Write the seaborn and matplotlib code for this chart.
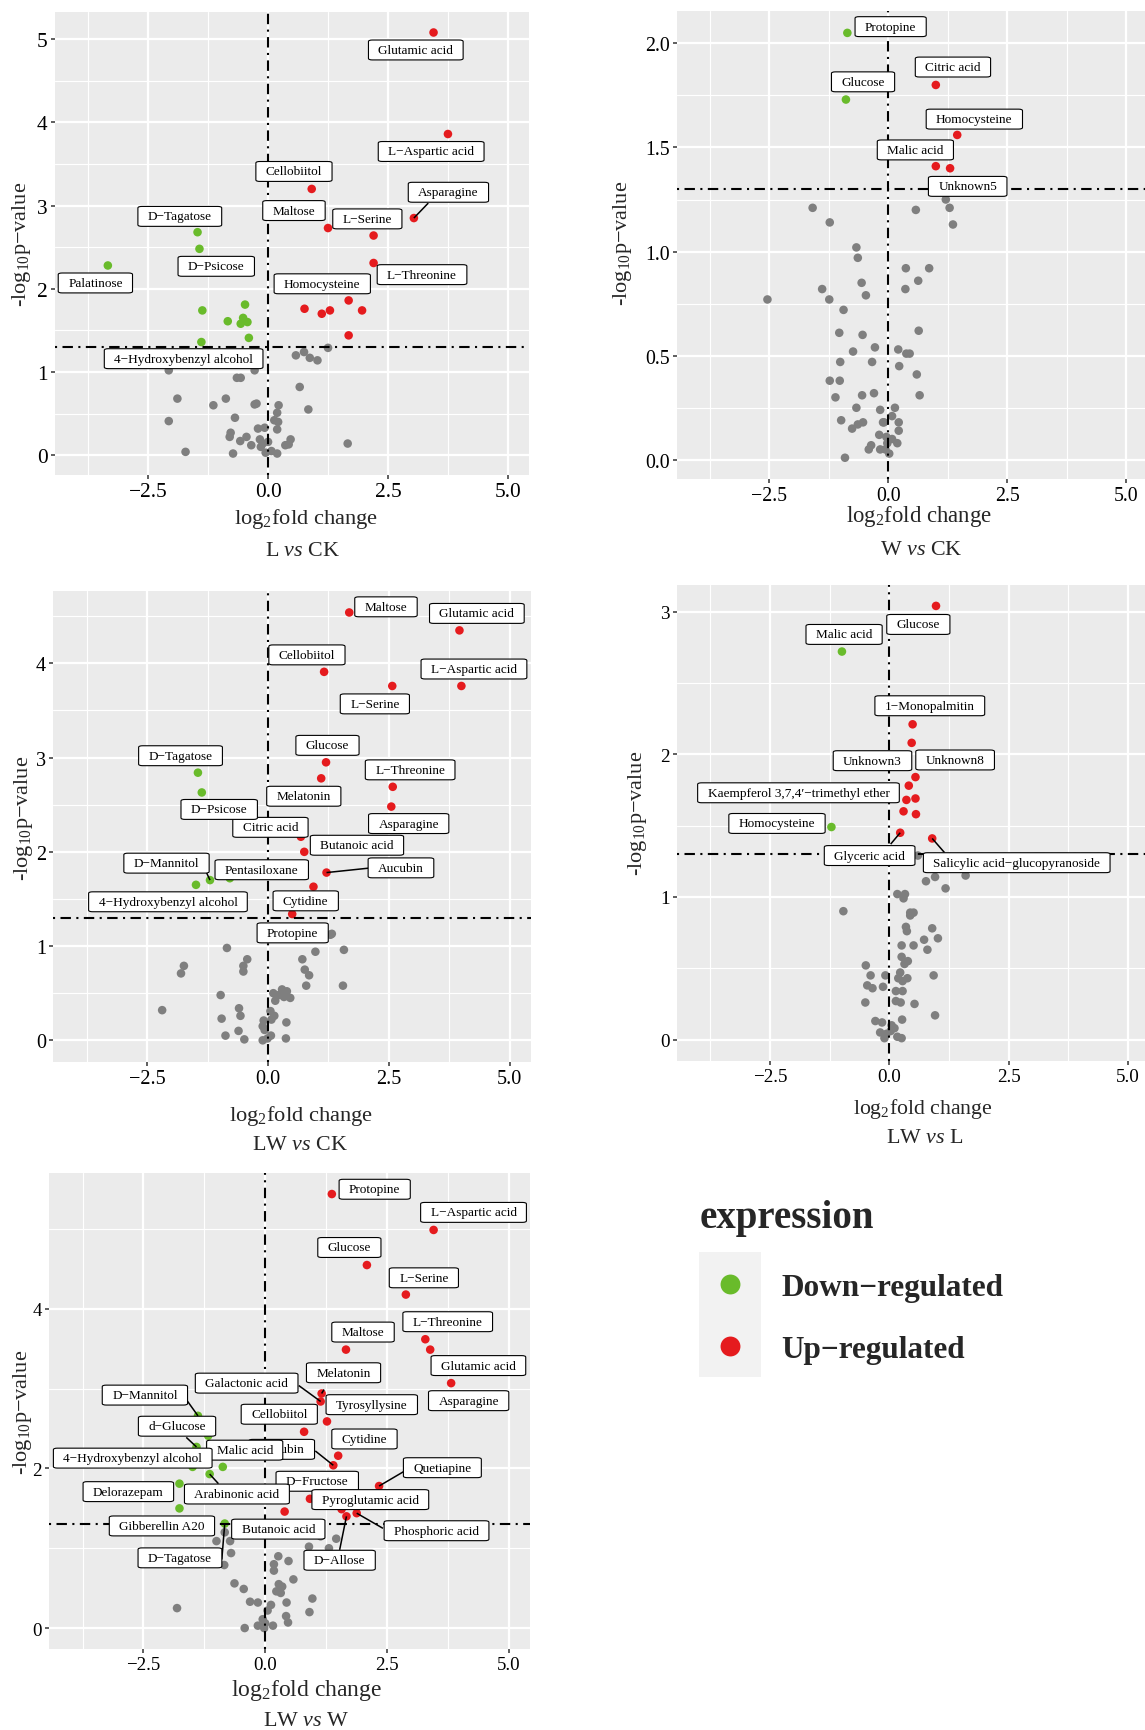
import numpy as np
import pandas as pd
import matplotlib
matplotlib.use("Agg")
import matplotlib.pyplot as plt
import seaborn as sns
from matplotlib.patches import Rectangle
from matplotlib.ticker import FixedLocator

sns.set_style("white")
plt.rcParams["font.family"] = ["Liberation Serif", "DejaVu Serif"]
plt.rcParams["mathtext.fontset"] = "custom"
plt.rcParams["mathtext.rm"] = "Liberation Serif"
plt.rcParams["mathtext.it"] = "Liberation Serif:italic"
plt.rcParams["mathtext.bf"] = "Liberation Serif:bold"
plt.rcParams["mathtext.default"] = "regular"

P_CUT = -np.log10(0.05)
UP, DOWN, NS = "Up−regulated", "Down−regulated", "Unchanged"
GROUP_COLORS = {DOWN: "#69BB2B", UP: "#E51B1E", NS: "#7F7F7F"}

# ---------------- L vs CK ----------------
lck_names = ["Glutamic acid", "L−Aspartic acid", "Cellobiitol", "Asparagine", "Maltose",
             "L−Serine", "L−Threonine", "Homocysteine", "D−Tagatose", "D−Psicose",
             "Palatinose", "4−Hydroxybenzyl alcohol"]
lck_fc = [3.45, 3.75, 0.91, 3.04, 1.25, 2.20, 2.20, 1.68, -1.47, -1.43, -3.34, -1.39]
lck_p = [5.08, 3.86, 3.20, 2.85, 2.73, 2.64, 2.31, 1.86, 2.68, 2.48, 2.28, 1.36]
lck_sig_fc = [0.76, 1.12, 1.29, 1.96, 1.68, -1.37, -0.48, -0.84, -0.52, -0.57, -0.43, -0.40]
lck_sig_p = [1.76, 1.70, 1.74, 1.74, 1.44, 1.74, 1.81, 1.61, 1.65, 1.58, 1.60, 1.41]
lck_ns_fc = [0.58, 0.75, 0.87, 1.03, 1.25, -2.07, -0.67, -0.28, -0.65, -0.57, 0.66, -1.89,
             -0.88, -1.14, -0.28, -0.24, 0.22, 0.19, 0.13, 0.21, 0.84, -0.69, -2.07, 0.19,
             -0.21, -0.07, -0.78, -0.80, -0.45, -0.58, -0.17, -0.11, 0.00, -0.35, -0.15,
             0.36, 0.47, 0.43, -0.05, 0.07, 0.19, -0.73, -1.72, 1.66]
lck_ns_p = [1.20, 1.24, 1.17, 1.14, 1.29, 1.02, 1.09, 1.02, 0.93, 0.93, 0.82, 0.68,
            0.68, 0.60, 0.61, 0.62, 0.60, 0.51, 0.42, 0.40, 0.55, 0.45, 0.41, 0.31,
            0.32, 0.33, 0.27, 0.22, 0.22, 0.17, 0.19, 0.14, 0.16, 0.12, 0.10,
            0.12, 0.19, 0.13, 0.03, 0.05, 0.02, 0.02, 0.04, 0.14]

# ---------------- W vs CK ----------------
wck_names = ["Protopine", "Glucose", "Citric acid", "Homocysteine", "Malic acid", "Unknown5"]
wck_fc = [-0.86, -0.89, 1.00, 1.45, 1.00, 1.30]
wck_p = [2.05, 1.73, 1.80, 1.56, 1.41, 1.40]
wck_sig_fc = []
wck_sig_p = []
wck_ns_fc = [1.21, 1.29, 1.36, -1.59, 0.58, -1.23, -0.67, -0.64, 0.37, 0.86, 0.63, -0.56,
             -1.39, 0.36, -0.47, -1.24, -2.54, -0.94, -1.03, -0.54, 0.64, -0.28, -0.74,
             0.21, 0.38, 0.45, -1.01, -0.34, 0.23, 0.60, -1.23, -1.02, -0.55, -0.30, 0.66,
             -1.11, -0.67, 0.14, -0.17, 0.08, -0.99, -0.53, -0.64, -0.76, -0.09, -0.11,
             0.22, 0.22, -0.19, -0.04, 0.08, 0.19, -0.36, -0.41, -0.17, -0.06, 0.02,
             -0.02, -0.91]
wck_ns_p = [1.25, 1.21, 1.13, 1.21, 1.20, 1.14, 1.02, 0.97, 0.92, 0.92, 0.86, 0.85,
            0.82, 0.82, 0.79, 0.77, 0.77, 0.72, 0.61, 0.60, 0.62, 0.54, 0.52,
            0.53, 0.51, 0.51, 0.47, 0.47, 0.45, 0.41, 0.38, 0.38, 0.31, 0.32, 0.31,
            0.30, 0.25, 0.25, 0.24, 0.21, 0.19, 0.18, 0.17, 0.15, 0.18, 0.18,
            0.18, 0.14, 0.12, 0.11, 0.10, 0.08, 0.07, 0.05, 0.05, 0.05, 0.03,
            0.08, 0.01]

# ---------------- LW vs CK ----------------
lwck_names = ["Maltose", "Glutamic acid", "Cellobiitol", "L−Serine", "L−Aspartic acid",
              "Glucose", "Melatonin", "L−Threonine", "Asparagine", "Citric acid",
              "Butanoic acid", "Aucubin", "Cytidine", "Protopine", "D−Tagatose",
              "D−Psicose", "D−Mannitol", "Pentasiloxane", "4−Hydroxybenzyl alcohol"]
lwck_fc = [1.68, 3.96, 1.16, 2.57, 4.00, 1.20, 1.10, 2.58, 2.55, 0.68, 0.75, 1.21, 0.94,
           0.50, -1.45, -1.37, -1.20, -0.79, -1.49]
lwck_p = [4.54, 4.35, 3.91, 3.76, 3.76, 2.95, 2.78, 2.69, 2.48, 2.16, 2.00, 1.78, 1.63,
          1.34, 2.84, 2.63, 1.70, 1.72, 1.65]
lwck_sig_fc = []
lwck_sig_p = []
lwck_ns_fc = [1.32, 1.29, -0.85, 1.57, 0.98, -0.43, 0.71, -1.74, -1.80, -0.51, -0.51, 0.76,
              0.85, 0.79, 1.55, -0.98, 0.11, 0.29, 0.39, 0.22, 0.15, 0.46, 0.33, -2.19,
              -0.60, -0.57, -0.96, 0.05, 0.13, 0.07, -0.09, 0.38, -0.11, -0.61, -0.07,
              0.06, -0.88, -0.49, -0.11, -0.01, 0.37]
lwck_ns_p = [1.13, 1.12, 0.98, 0.96, 0.94, 0.86, 0.86, 0.79, 0.71, 0.79, 0.73, 0.75,
             0.69, 0.58, 0.58, 0.48, 0.50, 0.54, 0.52, 0.48, 0.42, 0.45, 0.46, 0.32,
             0.34, 0.26, 0.23, 0.31, 0.26, 0.22, 0.21, 0.19, 0.15, 0.10, 0.11,
             0.05, 0.05, 0.01, 0.00, 0.02, 0.02]

# ---------------- LW vs L ----------------
lwl_names = ["Glucose", "Malic acid", "1−Monopalmitin", "Unknown8", "Unknown3",
             "Kaempferol 3,7,4′−trimethyl ether", "Homocysteine", "Glyceric acid",
             "Salicylic acid−glucopyranoside"]
lwl_fc = [0.98, -0.99, 0.49, 0.55, 0.41, 0.36, -1.21, 0.23, 0.90]
lwl_p = [3.04, 2.72, 2.21, 1.84, 1.78, 1.68, 1.49, 1.45, 1.41]
lwl_sig_fc = [0.47, 0.55, 0.30, 0.56]
lwl_sig_p = [2.08, 1.69, 1.60, 1.58]
lwl_ns_fc = [0.60, 0.96, 1.60, 0.77, 1.18, 0.17, 0.33, 0.30, -0.96, 0.44, 0.51, 0.44, 0.35,
             0.37, 0.90, 0.73, 1.02, 0.26, 0.51, 0.80, 0.26, 0.39, 0.32, -0.49, 0.23,
             -0.39, -0.08, 0.19, 0.38, 0.28, 0.93, -0.46, -0.35, -0.13, 0.14, 0.28,
             -0.50, 0.14, 0.24, 0.53, 0.96, 0.27, -0.29, -0.15, 0.05, 0.11, -0.19,
             -0.06, -0.10, 0.17, 0.26, 0.03]
lwl_ns_p = [1.29, 1.14, 1.15, 1.11, 1.06, 1.02, 1.02, 0.99, 0.90, 0.89, 0.89, 0.87, 0.79,
            0.76, 0.78, 0.70, 0.71, 0.66, 0.66, 0.63, 0.58, 0.55, 0.53, 0.52, 0.47,
            0.45, 0.45, 0.43, 0.43, 0.41, 0.45, 0.38, 0.36, 0.37, 0.34, 0.34,
            0.26, 0.27, 0.26, 0.25, 0.17, 0.14, 0.13, 0.12, 0.10, 0.08, 0.05,
            0.04, 0.01, 0.02, 0.01, 0.06]

# ---------------- LW vs W ----------------
lww_names = ["Protopine", "L−Aspartic acid", "Glucose", "L−Serine", "L−Threonine",
             "Glutamic acid", "Asparagine", "Maltose", "Melatonin", "Galactonic acid",
             "Tyrosyllysine", "Cellobiitol", "Cytidine", "Aucubin", "Quetiapine",
             "D−Fructose", "Pyroglutamic acid", "D−Allose", "Phosphoric acid",
             "Butanoic acid", "D−Mannitol", "d−Glucose", "Malic acid",
             "4−Hydroxybenzyl alcohol", "Arabinonic acid", "Delorazepam",
             "Gibberellin A20", "D−Tagatose"]
lww_fc = [1.37, 3.46, 2.09, 2.89, 3.29, 3.39, 3.82, 1.66, 1.16, 1.14, 1.27, 0.80, 1.50,
          1.40, 2.34, 0.92, 1.57, 1.67, 1.88, 0.40, -1.38, -1.41, -0.87, -1.49, -1.14,
          -1.76, -1.76, -0.83]
lww_p = [5.44, 4.99, 4.55, 4.18, 3.62, 3.49, 3.07, 3.49, 2.94, 2.84, 2.59, 2.46, 2.16,
         2.04, 1.78, 1.62, 1.49, 1.40, 1.44, 1.46, 2.66, 2.27, 2.02, 2.02, 1.93,
         1.81, 1.50, 1.31]
lww_sig_fc = [-1.17]
lww_sig_p = [2.41]
lww_ns_fc = [-1.00, -0.72, -0.83, -0.70, -0.84, 0.90, 1.14, 1.31, 1.46, 0.27, 0.48, 0.18,
             0.18, 0.58, -0.63, -0.44, 0.28, 0.35, 0.23, 0.32, 0.97, -0.31, -0.15, 0.44,
             0.12, 0.05, -1.81, 0.91, 0.43, 0.47, -0.05, 0.00, -0.15, 0.16, -0.02, -0.42]
lww_ns_p = [1.09, 1.09, 1.20, 0.94, 0.79, 1.02, 1.15, 1.00, 1.12, 0.90, 0.84, 0.80,
            0.72, 0.61, 0.56, 0.49, 0.55, 0.52, 0.46, 0.44, 0.37, 0.33, 0.32, 0.32,
            0.29, 0.22, 0.25, 0.20, 0.15, 0.07, 0.11, 0.06, 0.03, 0.03, 0.00, 0.00]

# Label placement (data coordinates of each box centre) and leader-line anchors
LAYOUT = {
    "lck": {"Glutamic acid": (3.08, 4.87), "L−Aspartic acid": (3.40, 3.65),
            "Cellobiitol": (0.54, 3.41), "Asparagine": (3.76, 3.16), "Maltose": (0.54, 2.94),
            "L−Serine": (2.07, 2.84), "L−Threonine": (3.21, 2.17), "Homocysteine": (1.13, 2.06),
            "D−Tagatose": (-1.84, 2.87), "D−Psicose": (-1.08, 2.27), "Palatinose": (-3.60, 2.07),
            "4−Hydroxybenzyl alcohol": (-1.76, 1.16)},
    "wck": {"Protopine": (0.05, 2.08), "Glucose": (-0.53, 1.815), "Citric acid": (1.36, 1.886),
            "Homocysteine": (1.81, 1.636), "Malic acid": (0.57, 1.488), "Unknown5": (1.67, 1.313)},
    "lwck": {"Maltose": (2.44, 4.60), "Glutamic acid": (4.32, 4.53), "Cellobiitol": (0.805, 4.09),
             "L−Aspartic acid": (4.26, 3.94), "L−Serine": (2.21, 3.57), "Glucose": (1.23, 3.13),
             "L−Threonine": (2.94, 2.87), "Melatonin": (0.74, 2.59), "D−Tagatose": (-1.81, 3.02),
             "D−Psicose": (-1.01, 2.45), "Citric acid": (0.05, 2.26), "Asparagine": (2.91, 2.30),
             "Butanoic acid": (1.84, 2.07), "D−Mannitol": (-2.10, 1.88),
             "Pentasiloxane": (-0.13, 1.81), "Aucubin": (2.75, 1.83),
             "4−Hydroxybenzyl alcohol": (-2.07, 1.47), "Cytidine": (0.78, 1.48),
             "Protopine": (0.51, 1.14)},
    "lwl": {"Glucose": (0.61, 2.91), "Malic acid": (-0.945, 2.84), "1−Monopalmitin": (0.85, 2.34),
            "Unknown3": (-0.35, 1.955), "Unknown8": (1.38, 1.96),
            "Kaempferol 3,7,4′−trimethyl ether": (-1.90, 1.73), "Homocysteine": (-2.35, 1.515),
            "Glyceric acid": (-0.41, 1.29), "Salicylic acid−glucopyranoside": (2.67, 1.24)},
    "lww": {"Protopine": (2.25, 5.50), "L−Aspartic acid": (4.28, 5.21), "Glucose": (1.73, 4.77),
            "L−Serine": (3.26, 4.39), "L−Threonine": (3.75, 3.84), "Maltose": (2.01, 3.71),
            "Glutamic acid": (4.38, 3.29), "Melatonin": (1.61, 3.20),
            "Galactonic acid": (-0.38, 3.07), "D−Mannitol": (-2.47, 2.92),
            "Tyrosyllysine": (2.19, 2.80), "Asparagine": (4.18, 2.85), "Cellobiitol": (0.29, 2.68),
            "d−Glucose": (-1.81, 2.53), "Cytidine": (2.04, 2.37), "Aucubin": (0.34, 2.24),
            "Malic acid": (-0.42, 2.23), "4−Hydroxybenzyl alcohol": (-2.72, 2.13),
            "Quetiapine": (3.64, 2.01), "D−Fructose": (1.07, 1.84), "Delorazepam": (-2.81, 1.71),
            "Arabinonic acid": (-0.58, 1.68), "Pyroglutamic acid": (2.16, 1.61),
            "Gibberellin A20": (-2.12, 1.28), "Butanoic acid": (0.27, 1.24),
            "Phosphoric acid": (3.52, 1.22), "D−Tagatose": (-1.75, 0.88), "D−Allose": (1.53, 0.85)},
}
LEADERS = {
    "lck": {"Asparagine": (3.34, 3.03)},
    "wck": {},
    "lwck": {"D−Mannitol": (-1.30, 1.81), "Aucubin": (2.14, 1.83)},
    "lwl": {"Glyceric acid": (0.03, 1.37), "Salicylic acid−glucopyranoside": (1.16, 1.31)},
    "lww": {"Galactonic acid": (0.69, 3.04), "D−Mannitol": (-1.65, 2.89), "d−Glucose": (-1.62, 2.39),
            "Aucubin": (1.03, 2.22), "Quetiapine": (2.87, 1.97), "Phosphoric acid": (2.42, 1.25),
            "D−Allose": (1.53, 0.98), "Arabinonic acid": (-0.96, 1.81), "D−Tagatose": (-0.89, 0.86),
            "Melatonin": (1.21, 2.99)},
}
# drawing order of boxes in the crowded LW vs W panel
LWW_ORDER = ["Aucubin", "Malic acid", "4−Hydroxybenzyl alcohol", "D−Fructose", "Arabinonic acid",
             "Pyroglutamic acid"]


def build_frame(names, fc, p, sig_fc, sig_p, ns_fc, ns_p):
    df = pd.DataFrame({
        "log2FC": list(fc) + list(sig_fc) + list(ns_fc),
        "nlogp": list(p) + list(sig_p) + list(ns_p),
        "label": list(names) + [""] * (len(sig_fc) + len(ns_fc)),
    })
    df["expression"] = np.where(df["nlogp"] > P_CUT,
                                np.where(df["log2FC"] > 0, UP, DOWN), NS)
    return df


PANELS = [
    dict(key="lck", title="L $\\mathit{vs}$ CK",
         df=build_frame(lck_names, lck_fc, lck_p, lck_sig_fc, lck_sig_p, lck_ns_fc, lck_ns_p),
         box=(54.6, 12.7, 529, 476), ylim=(-0.238, 5.33), yticks=[0, 1, 2, 3, 4, 5],
         yminor=[0.5, 1.5, 2.5, 3.5, 4.5], ylabels=["0", "1", "2", "3", "4", "5"],
         tick_fs=15.4, xlab=(305.7, 523.8, 16.2), ttl=(302.6, 556.2), ylab=(21.4, 244)),
    dict(key="wck", title="W $\\mathit{vs}$ CK",
         df=build_frame(wck_names, wck_fc, wck_p, wck_sig_fc, wck_sig_p, wck_ns_fc, wck_ns_p),
         box=(676.6, 11.6, 1147, 480), ylim=(-0.092, 2.157), yticks=[0, 0.5, 1.0, 1.5, 2.0],
         yminor=[0.25, 0.75, 1.25, 1.75], ylabels=["0.0", "0.5", "1.0", "1.5", "2.0"],
         tick_fs=14.3, xlab=(918.7, 522.4, 16.4), ttl=(921, 555.4), ylab=(622, 243.5)),
    dict(key="lwck", title="LW $\\mathit{vs}$ CK",
         df=build_frame(lwck_names, lwck_fc, lwck_p, lwck_sig_fc, lwck_sig_p, lwck_ns_fc, lwck_ns_p),
         box=(52.9, 591.8, 531, 1062.8), ylim=(-0.228, 4.77), yticks=[0, 1, 2, 3, 4],
         yminor=[0.5, 1.5, 2.5, 3.5, 4.5], ylabels=["0", "1", "2", "3", "4"],
         tick_fs=14.6, xlab=(301.4, 1121.2, 16.2), ttl=(300, 1149.7), ylab=(23.2, 818.6)),
    dict(key="lwl", title="LW $\\mathit{vs}$ L",
         df=build_frame(lwl_names, lwl_fc, lwl_p, lwl_sig_fc, lwl_sig_p, lwl_ns_fc, lwl_ns_p),
         box=(676.7, 585.5, 1149, 1061.7), ylim=(-0.148, 3.19), yticks=[0, 1, 2, 3],
         yminor=[0.5, 1.5, 2.5], ylabels=["0", "1", "2", "3"],
         tick_fs=13.8, xlab=(922.7, 1113.9, 15.7), ttl=(924.5, 1143.1), ylab=(637.7, 813.8)),
    dict(key="lww", title="LW $\\mathit{vs}$ W",
         df=build_frame(lww_names, lww_fc, lww_p, lww_sig_fc, lww_sig_p, lww_ns_fc, lww_ns_p),
         box=(48.5, 1174.3, 530, 1649.8), ylim=(-0.26, 5.70), yticks=[0, 2, 4],
         yminor=[1, 3, 5], ylabels=["0", "2", "4"],
         tick_fs=13.6, xlab=(307, 1696, 17.0), ttl=(306, 1726.3), ylab=(22.3, 1412)),
]

W, H = 1145, 1731
XLIM = (-4.45, 5.44)
DOTDASH = (0, (1, 2.6, 5, 2.6))

fig = plt.figure(figsize=(W / 100, H / 100), dpi=100)
fig.patch.set_facecolor("white")

for spec in PANELS:
    l, t, r, b = spec["box"]
    ax = fig.add_axes([l / W, 1 - b / H, (r - l) / W, (b - t) / H])
    df = spec["df"]
    ax.set_facecolor("#EBEBEB")
    ax.set_axisbelow(True)

    order = df.sort_values("expression", key=lambda s: s.map({NS: 0, DOWN: 1, UP: 1}), kind="stable")
    sns.scatterplot(data=order, x="log2FC", y="nlogp", hue="expression", palette=GROUP_COLORS,
                    s=38, linewidth=0, legend=False, ax=ax, zorder=3)

    ax.axhline(P_CUT, color="black", lw=1.5, ls=DOTDASH, zorder=3.5)
    ax.axvline(0, color="black", lw=1.5, ls=DOTDASH, zorder=3.5)

    ax.set_xlim(XLIM)
    ax.set_ylim(spec["ylim"])
    ax.xaxis.set_major_locator(FixedLocator([-2.5, 0, 2.5, 5.0]))
    ax.xaxis.set_minor_locator(FixedLocator([-3.75, -1.25, 1.25, 3.75]))
    ax.yaxis.set_major_locator(FixedLocator(spec["yticks"]))
    ax.yaxis.set_minor_locator(FixedLocator(spec["yminor"]))
    ax.set_xticklabels(["−2.5", "0.0", "2.5", "5.0"])
    ax.set_yticklabels(spec["ylabels"])
    ax.grid(which="major", color="white", lw=1.6)
    ax.grid(which="minor", color="white", lw=0.85)
    for sp in ax.spines.values():
        sp.set_visible(False)
    ax.tick_params(which="major", length=3, width=1.1, color="#333333",
                   labelsize=spec["tick_fs"], pad=2, labelcolor="black",
                   left=True, bottom=True)
    ax.tick_params(which="minor", length=0)
    ax.set_xlabel("")
    ax.set_ylabel("")

    key = spec["key"]
    layout, leaders = LAYOUT[key], LEADERS[key]
    labelled = df[df["label"] != ""].set_index("label")
    names = list(labelled.index)
    if key == "lww":
        names = [n for n in names if n not in LWW_ORDER] + LWW_ORDER
    for k, name in enumerate(names):
        px, py = labelled.loc[name, "log2FC"], labelled.loc[name, "nlogp"]
        lx, ly = layout[name]
        if name in leaders:
            sx, sy = leaders[name]
            ax.plot([px, sx], [py, sy], color="black", lw=1.1, zorder=4,
                    solid_capstyle="butt")
        ax.text(lx, ly, name, ha="center", va="center", fontsize=9.5, color="black",
                zorder=5 + k * 0.01,
                bbox=dict(boxstyle="round,pad=0.75,rounding_size=0.3", fc="white",
                          ec="black", lw=0.8, mutation_aspect=0.4))

    fig.text(spec["xlab"][0] / W, 1 - spec["xlab"][1] / H, "log$_{2}$fold change",
             ha="center", va="baseline", fontsize=spec["xlab"][2])
    fig.text(spec["ttl"][0] / W, 1 - spec["ttl"][1] / H, spec["title"],
             ha="center", va="baseline", fontsize=15.8)
    fig.text(spec["ylab"][0] / W, 1 - spec["ylab"][1] / H, "-log$_{10}$p−value",
             ha="center", va="center", rotation=90, fontsize=16)

# legend for the expression groups
lg = fig.add_axes([0, 0, 1, 1])
lg.set_xlim(0, W)
lg.set_ylim(H, 0)
lg.axis("off")
lg.add_patch(Rectangle((699, 1253), 62, 125, facecolor="#F2F2F2", edgecolor="none"))
for yk, grp in [(1285, DOWN), (1347, UP)]:
    lg.scatter([729.5], [yk], s=205, color=GROUP_COLORS[grp], linewidths=0)
    lg.text(781, yk + 11.5, grp, fontsize=22.5, fontweight="bold", va="baseline", ha="left")
lg.text(700, 1228, "expression", fontsize=28, fontweight="bold", va="baseline", ha="left")

fig.savefig("out.png", dpi=100, facecolor="white")
